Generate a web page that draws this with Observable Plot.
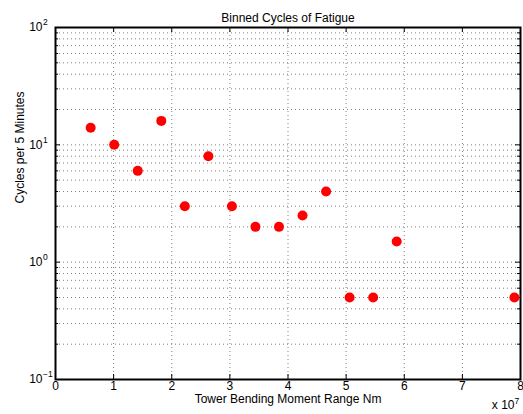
<!DOCTYPE html>
<html>
<head>
<meta charset="utf-8">
<script src="https://cdn.jsdelivr.net/npm/d3@7"></script>
<script src="https://cdn.jsdelivr.net/npm/@observablehq/plot@0.6"></script>
<style>
  html, body { margin: 0; padding: 0; background: #fff; }
  svg { display: block; }
</style>
</head>
<body>
<div id="chart"></div>
<script>
// Bin centres of tower bending moment range (Nm)
const momentRange = [6.05e6, 1.01e7, 1.415e7, 1.82e7, 2.225e7, 2.63e7, 3.035e7, 3.44e7,
                     3.845e7, 4.25e7, 4.655e7, 5.06e7, 5.465e7, 5.87e7, 7.895e7];
// Cycles per 5 minutes in each bin
const cycles = [14, 10, 6, 16, 3, 8, 3, 2, 2, 2.5, 4, 0.5, 0.5, 1.5, 0.5];

const xTicks = [0, 1e7, 2e7, 3e7, 4e7, 5e7, 6e7, 7e7, 8e7];
const xTickLabels = ["0", "1", "2", "3", "4", "5", "6", "7", "8"];
const yDecadeExponents = [-1, 0, 1, 2];

const titleText = "Binned Cycles of Fatigue";
const xLabel = "Tower Bending Moment Range Nm";
const yLabel = "Cycles per 5 Minutes";

const data = momentRange.map((m, i) => ({moment: m, cycles: cycles[i]}));
const yMajor = yDecadeExponents.map(e => Math.pow(10, e));
const yAll = d3.scaleLog().domain([0.1, 100]).ticks();
const yMinor = yAll.filter(v => !yMajor.some(m => Math.abs(m - v) / m < 1e-9));

const W = 523, H = 414;
const mL = 55, mR = 3, mT = 27, mB = 35;
const pw = W - mL - mR, ph = H - mT - mB;
const font = "Liberation Sans, Arial, Helvetica, sans-serif";

const gridStyle = {stroke: "#7f7f7f", strokeOpacity: 1, strokeWidth: 1, strokeDasharray: "1,3"};

const chart = Plot.plot({
  width: W,
  height: H,
  marginLeft: mL,
  marginRight: mR,
  marginTop: mT,
  marginBottom: mB,
  style: {fontFamily: font, fontSize: "12px", background: "white", color: "black"},
  x: {domain: [0, 8e7], axis: null},
  y: {type: "log", domain: [0.1, 100], axis: null},
  marks: [
    Plot.gridX(xTicks.slice(1, -1), gridStyle),
    Plot.gridY(yAll.filter(v => v > 0.1 && v < 100), gridStyle),
    // major ticks (inside) bottom/top
    Plot.tickX(xTicks, {x: d => d, insetTop: ph - 5, stroke: "black", strokeWidth: 1}),
    Plot.tickX(xTicks, {x: d => d, insetBottom: ph - 5, stroke: "black", strokeWidth: 1}),
    // major ticks left/right
    Plot.tickY(yMajor, {y: d => d, insetRight: pw - 5, stroke: "black", strokeWidth: 1}),
    Plot.tickY(yMajor, {y: d => d, insetLeft: pw - 5, stroke: "black", strokeWidth: 1}),
    // minor ticks left/right
    Plot.tickY(yMinor, {y: d => d, insetRight: pw - 3, stroke: "black", strokeWidth: 1}),
    Plot.tickY(yMinor, {y: d => d, insetLeft: pw - 3, stroke: "black", strokeWidth: 1}),
    Plot.frame({stroke: "black", strokeWidth: 2}),
    Plot.dot(data, {x: "moment", y: "cycles", r: 5, fill: "#ff0000", stroke: "none"}),
    // x tick labels
    Plot.text(xTicks, {x: d => d, frameAnchor: "bottom", dy: 10.5, text: (d, i) => xTickLabels[i], fontSize: 12}),
    // y tick labels 10^n
    Plot.text(yDecadeExponents, {y: e => Math.pow(10, e), frameAnchor: "left", dx: -13, text: () => "10", textAnchor: "end", fontSize: 12}),
    Plot.text(yDecadeExponents, {y: e => Math.pow(10, e), frameAnchor: "left", dx: -12.5, dy: -5, text: e => e < 0 ? "\u2212" + Math.abs(e) : String(e), textAnchor: "start", fontSize: 8.5}),
    // title
    Plot.text([titleText], {frameAnchor: "top", dy: -14, text: d => d, fontSize: 12}),
    // x label
    Plot.text([xLabel], {frameAnchor: "bottom", dy: 23, text: d => d, fontSize: 12}),
    // y label
    Plot.text([yLabel], {frameAnchor: "left", dx: -35, rotate: -90, text: d => d, fontSize: 12}),
    // x 10^7 multiplier
    Plot.text(["x 10"], {frameAnchor: "bottom-right", dx: -6, dy: 29, text: d => d, textAnchor: "end", fontSize: 12}),
    Plot.text(["7"], {frameAnchor: "bottom-right", dx: -6, dy: 24, text: d => d, textAnchor: "start", fontSize: 8.5})
  ]
});
document.getElementById("chart").appendChild(chart);
</script>
</body>
</html>
